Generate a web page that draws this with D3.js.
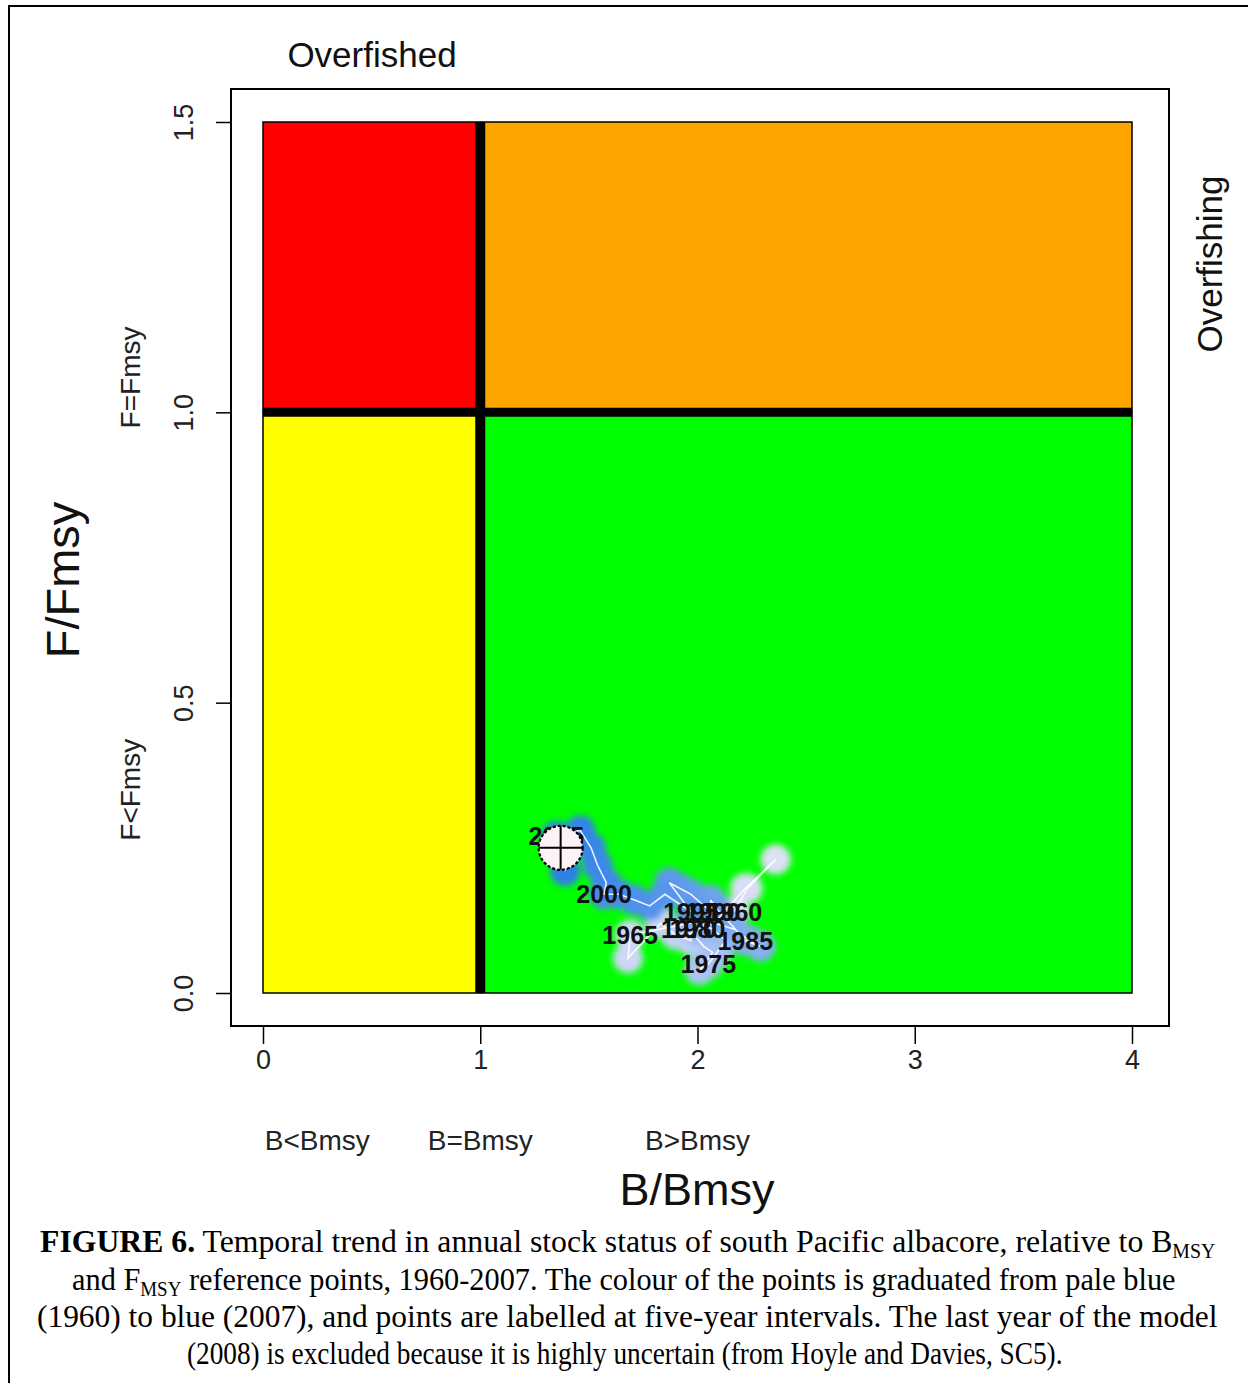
<!DOCTYPE html>
<html>
<head>
<meta charset="utf-8">
<script src="https://cdn.jsdelivr.net/npm/d3@7"></script>
<style>
  html, body { margin: 0; padding: 0; background: #fff; }
  svg { display: block; }
</style>
</head>
<body>
<svg id="fig" width="1248" height="1383"></svg>
<script>
// Annual stock status, south Pacific albacore, 1960-2007
const years = [1960,1961,1962,1963,1964,1965,1966,1967,1968,1969,
               1970,1971,1972,1973,1974,1975,1976,1977,1978,1979,
               1980,1981,1982,1983,1984,1985,1986,1987,1988,1989,
               1990,1991,1992,1993,1994,1995,1996,1997,1998,1999,
               2000,2001,2002,2003,2004,2005,2006,2007];
const bRatio = [2.17,2.23,2.36,2.22,2.10,1.69,1.68,1.83,1.90,1.97,
                1.96,2.03,2.07,2.03,2.01,2.05,2.09,2.13,2.07,2.01,
                2.00,2.08,2.17,2.24,2.29,2.22,2.15,2.10,2.08,2.06,
                2.07,2.03,1.97,1.92,1.87,1.97,1.85,1.78,1.71,1.64,
                1.57,1.58,1.54,1.51,1.46,1.35,1.39,1.37];
const fRatio = [0.14,0.18,0.23,0.18,0.13,0.10,0.06,0.12,0.10,0.09,
                0.11,0.08,0.07,0.05,0.04,0.05,0.07,0.09,0.11,0.12,
                0.11,0.12,0.11,0.09,0.08,0.09,0.12,0.14,0.15,0.16,
                0.14,0.15,0.17,0.18,0.19,0.14,0.17,0.15,0.16,0.17,
                0.17,0.19,0.22,0.25,0.28,0.27,0.21,0.25];

// Status zones (overfished & overfishing, overfishing, overfished, healthy)
const zoneB0 = [0, 1, 0, 1];
const zoneB1 = [1, 4, 1, 4];
const zoneF0 = [1, 1, 0, 0];
const zoneF1 = [1.5, 1.5, 1, 1];
const zoneColours = ["#ff0000", "#ffa500", "#ffff00", "#00ff00"];

const xTicks = [0, 1, 2, 3, 4];
const yTicks = [0, 0.5, 1.0, 1.5];
const yTickLabels = ["0.0", "0.5", "1.0", "1.5"];
const bZoneLabels = ["B<Bmsy", "B=Bmsy", "B>Bmsy"];
const bZonePos = [0.25, 1, 2];
const fZoneLabels = ["F<Fmsy", "F=Fmsy"];
const fZonePos = [0.35, 1.06];

const svg = d3.select("#fig");
const SANS = "'Liberation Sans', Arial, sans-serif";
const SERIF = "'Liberation Serif', 'Times New Roman', serif";

// outer figure frame
svg.append("rect").attr("x", 9).attr("y", 6).attr("width", 1260).attr("height", 1400)
  .attr("fill", "none").attr("stroke", "#000").attr("stroke-width", 2);

const x = d3.scaleLinear().domain([0, 4]).range([263, 1132]);
const y = d3.scaleLinear().domain([0, 1.5]).range([993, 122]);

const defs = svg.append("defs");
defs.append("filter").attr("id", "soft").attr("x", "-50%").attr("y", "-50%")
  .attr("width", "200%").attr("height", "200%")
  .append("feGaussianBlur").attr("stdDeviation", 3);

// zone rectangles
const zones = zoneColours.map((c, i) => ({x0: zoneB0[i], x1: zoneB1[i], y0: zoneF0[i], y1: zoneF1[i], c}));
svg.append("g").selectAll("rect").data(zones).join("rect")
  .attr("x", d => x(d.x0)).attr("y", d => y(d.y1))
  .attr("width", d => x(d.x1) - x(d.x0)).attr("height", d => y(d.y0) - y(d.y1))
  .attr("fill", d => d.c).attr("stroke", "#000").attr("stroke-width", 1.5);

// reference lines B=Bmsy and F=Fmsy
svg.append("line").attr("x1", x(0)).attr("x2", x(4)).attr("y1", y(1)).attr("y2", y(1))
  .attr("stroke", "#000").attr("stroke-width", 9);
svg.append("line").attr("x1", x(1)).attr("x2", x(1)).attr("y1", y(0)).attr("y2", y(1.5))
  .attr("stroke", "#000").attr("stroke-width", 10);

// plot frame
svg.append("rect").attr("x", 231).attr("y", 89).attr("width", 938).attr("height", 937)
  .attr("fill", "none").attr("stroke", "#000").attr("stroke-width", 2);

// axes
const xAxis = svg.append("g").attr("transform", "translate(0,1026)")
  .call(d3.axisBottom(x).tickValues(xTicks).tickSize(18).tickPadding(6).tickFormat(d3.format("d")));
xAxis.select(".domain").remove();
xAxis.selectAll("line").attr("stroke", "#000").attr("stroke-width", 1.5);
xAxis.selectAll("text").attr("font-family", SANS).attr("font-size", 27).attr("fill", "#222");

const yAxis = svg.append("g").attr("transform", "translate(231,0)")
  .call(d3.axisLeft(y).tickValues(yTicks).tickSize(15).tickFormat((d, i) => yTickLabels[i]));
yAxis.select(".domain").remove();
yAxis.selectAll("line").attr("stroke", "#000").attr("stroke-width", 1.5);
yAxis.selectAll("text")
  .attr("x", 0).attr("y", 0).attr("dy", 0)
  .attr("transform", "translate(-38,0) rotate(-90)")
  .attr("text-anchor", "middle")
  .attr("font-family", SANS).attr("font-size", 27).attr("fill", "#222");

// zone annotations
svg.append("g").selectAll("text").data(bZoneLabels).join("text")
  .attr("x", (d, i) => x(bZonePos[i])).attr("y", 1150)
  .attr("text-anchor", "middle").attr("font-family", SANS).attr("font-size", 28).attr("fill", "#222")
  .text(d => d);
svg.append("g").selectAll("text").data(fZoneLabels).join("text")
  .attr("transform", (d, i) => `translate(140,${y(fZonePos[i])}) rotate(-90)`)
  .attr("text-anchor", "middle").attr("font-family", SANS).attr("font-size", 28).attr("fill", "#222")
  .text(d => d);

svg.append("text").attr("x", 697).attr("y", 1205).attr("text-anchor", "middle")
  .attr("font-family", SANS).attr("font-size", 45).attr("fill", "#111").text("B/Bmsy");
svg.append("text").attr("transform", "translate(79,580) rotate(-90)").attr("text-anchor", "middle")
  .attr("font-family", SANS).attr("font-size", 47).attr("fill", "#111").text("F/Fmsy");
svg.append("text").attr("x", 372).attr("y", 67).attr("text-anchor", "middle")
  .attr("font-family", SANS).attr("font-size", 35).attr("fill", "#111").text("Overfished");
svg.append("text").attr("transform", "translate(1222,264) rotate(-90)").attr("text-anchor", "middle")
  .attr("font-family", SANS).attr("font-size", 35).attr("fill", "#111").text("Overfishing");

// trajectory, coloured from pale (first year) to blue (last year)
const pts = years.map((yr, i) => ({yr, b: bRatio[i], f: fRatio[i], i}));
const colour = d3.scaleLinear().domain([0, years.length - 1])
  .range(["#e6e4f7", "#2a7de8"]).interpolate(d3.interpolateRgb);

svg.append("g").attr("filter", "url(#soft)").selectAll("circle").data(pts).join("circle")
  .attr("cx", d => x(d.b)).attr("cy", d => y(d.f)).attr("r", 15)
  .attr("fill", d => colour(d.i));

svg.append("path").datum(pts)
  .attr("d", d3.line().x(d => x(d.b)).y(d => y(d.f)))
  .attr("fill", "none").attr("stroke", "#ffffff").attr("stroke-width", 1.6).attr("opacity", 0.9);

svg.append("g").selectAll("text").data(pts.filter(d => d.yr % 5 === 0)).join("text")
  .attr("x", d => x(d.b)).attr("y", d => y(d.f)).attr("dy", "0.36em")
  .attr("text-anchor", "middle").attr("font-family", SANS).attr("font-weight", "bold")
  .attr("font-size", 25).attr("fill", "#111").text(d => d.yr);

// final year marker
const last = pts[pts.length - 1];
const mk = svg.append("g").attr("transform", `translate(${x(last.b)},${y(last.f)})`);
mk.append("circle").attr("r", 22).attr("fill", "#fdf2f6").attr("stroke", "#000")
  .attr("stroke-width", 2.2).attr("stroke-dasharray", "3,2");
mk.append("line").attr("x1", -22).attr("x2", 22).attr("stroke", "#000").attr("stroke-width", 2);
mk.append("line").attr("y1", -22).attr("y2", 22).attr("stroke", "#000").attr("stroke-width", 2);

// caption
const capLines = [
  {parts: [["FIGURE 6.", "b"], [" Temporal trend in annual stock status of south Pacific albacore, relative to B", ""], ["MSY", "s"]], y: 1252, x0: 40, x1: 1216},
  {parts: [["and F", ""], ["MSY", "s"], [" reference points, 1960-2007. The colour of the points is graduated from pale blue", ""]], y: 1290, x0: 72, x1: 1176},
  {parts: [["(1960) to blue (2007), and points are labelled at five-year intervals. The last year of the model", ""]], y: 1327, x0: 37, x1: 1218},
  {parts: [["(2008) is excluded because it is highly uncertain (from Hoyle and Davies, SC5).", ""]], y: 1364, x0: 187, x1: 1063}
];
capLines.forEach(line => {
  const t = svg.append("text").attr("x", 0).attr("y", 0)
    .attr("font-family", SERIF).attr("font-size", 32).attr("fill", "#000");
  let shifted = false;
  line.parts.forEach(([s, k]) => {
    const ts = t.append("tspan").text(s);
    if (k === "b") ts.attr("font-weight", "bold");
    if (k === "s") { ts.attr("font-size", 20).attr("dy", 6); shifted = true; }
    else if (shifted) { ts.attr("dy", -6); shifted = false; }
  });
  const bb = t.node().getBBox();
  const sx = (line.x1 - line.x0) / bb.width;
  t.attr("transform", `translate(${line.x0 - bb.x * sx},${line.y}) scale(${sx},1)`);
});
</script>
</body>
</html>
